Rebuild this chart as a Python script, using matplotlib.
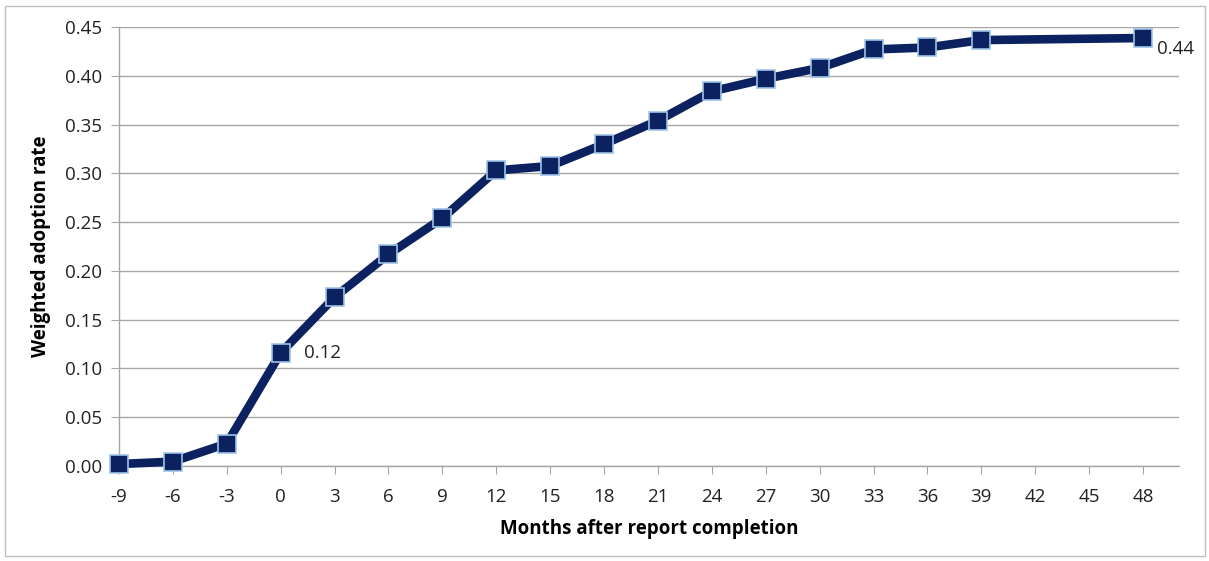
import matplotlib
matplotlib.use("Agg")
import matplotlib.pyplot as plt
from matplotlib.patches import Rectangle

# Months relative to report completion and the weighted adoption rate
months = [-9, -6, -3, 0, 3, 6, 9, 12, 15, 18, 21, 24, 27, 30, 33, 36, 39, 48]
adoption = [0.002, 0.0045, 0.023, 0.116, 0.173, 0.217, 0.254, 0.303, 0.3075,
            0.330, 0.354, 0.384, 0.397, 0.408, 0.427, 0.429, 0.4366, 0.4387]
x_ticks = list(range(-9, 49, 3))
y_ticks = [0.00, 0.05, 0.10, 0.15, 0.20, 0.25, 0.30, 0.35, 0.40, 0.45]
labelled = {0: ("0.12", (17, 0)), 48: ("0.44", (10, -8))}

plt.rcParams["font.family"] = ["Open Sans", "DejaVu Sans"]

W, H = 1209, 561
fig = plt.figure(figsize=(W / 100, H / 100), dpi=100)
ax = fig.add_axes([119 / W, 1 - 466 / H, (1179 - 119) / W, (466 - 27) / H])

grid_c = "#a6a6a6"
ax.plot(months, adoption, color="#0b2160", lw=6.2, marker="s", markersize=13.5,
        markerfacecolor="#0b2160", markeredgecolor="#9dc3e6",
        markeredgewidth=1.2, solid_joinstyle="round", zorder=3, clip_on=False)

for m, v in zip(months, adoption):
    if m in labelled:
        text, offset = labelled[m]
        ax.annotate(text, (m, v), xytext=offset, textcoords="offset points",
                    ha="left", va="center", fontsize=13.5, color="#222222")

ax.set_xlim(-9, 50)
ax.set_ylim(0, 0.45)
ax.set_xticks(x_ticks)
ax.set_xticklabels([str(t) for t in x_ticks])
ax.set_yticks(y_ticks)
ax.set_yticklabels([f"{t:.2f}" for t in y_ticks])
ax.yaxis.grid(True, color=grid_c, lw=1)
ax.set_axisbelow(True)
for s in ["top", "right"]:
    ax.spines[s].set_visible(False)
for s in ["left", "bottom"]:
    ax.spines[s].set_color(grid_c)
    ax.spines[s].set_linewidth(1)
ax.tick_params(axis="both", direction="out", length=6, color=grid_c,
               labelsize=13.5, labelcolor="#222222")
ax.tick_params(axis="x", pad=10)
ax.tick_params(axis="y", pad=6)

ax.set_xlabel("Months after report completion", fontsize=13.5, fontweight="bold",
              labelpad=9)
ax.set_ylabel("Weighted adoption rate", fontsize=13.5, fontweight="bold", labelpad=10)

fig.patches.append(Rectangle((5 / W, 5 / H), 1200 / W, 550 / H, transform=fig.transFigure,
                             fill=False, edgecolor="#bfbfbf", lw=1))

fig.savefig("out.png", dpi=100, facecolor="white")
